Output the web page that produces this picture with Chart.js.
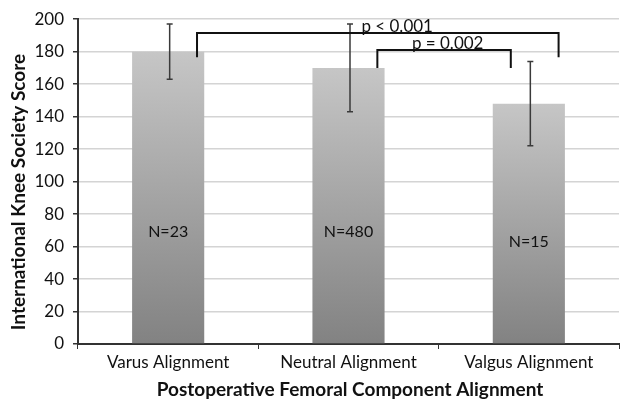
<!DOCTYPE html>
<html>
<head>
<meta charset="utf-8">
<script src="https://cdn.jsdelivr.net/npm/chart.js@4.4.1/dist/chart.umd.min.js"></script>
<style>
  html, body { margin: 0; padding: 0; background: #ffffff; }
  #wrap { width: 633px; height: 400px; }
</style>
</head>
<body>
<div id="wrap"><canvas id="c" width="633" height="400"></canvas></div>
<script>
// Knee Society scores by femoral component alignment group
const categories = ['Varus Alignment', 'Neutral Alignment', 'Valgus Alignment'];
const meanScores = [180, 170, 148];
const sdScores = [17, 27, 26];
const groupSizes = ['N=23', 'N=480', 'N=15'];
const yTicks = [0, 20, 40, 60, 80, 100, 120, 140, 160, 180, 200];

// Significance brackets: from/to in category units, bar height and leg foot in score units
const bracketLabels = ['p < 0.001', 'p = 0.002'];
const bracketFrom = [0.16, 1.16];
const bracketTo = [2.165, 1.90];
const bracketTop = [191.5, 181];
const bracketFoot = [176.5, 170];

const FONT = 'Lato, "Open Sans", sans-serif';

function barGradient(ctx) {
  const chart = ctx.chart;
  const area = chart.chartArea;
  if (!area || ctx.type !== 'data') return '#a0a0a0';
  const y = chart.scales.y;
  const top = y.getPixelForValue(ctx.raw);
  const bottom = y.getPixelForValue(0);
  const g = chart.ctx.createLinearGradient(0, top, 0, bottom);
  g.addColorStop(0, '#c6c6c6');
  g.addColorStop(1, '#828282');
  return g;
}

// Error bars, N labels, significance brackets and axis titles
const overlay = {
  id: 'overlay',
  afterDatasetsDraw(chart, args, opts) {
    const ctx = chart.ctx;
    const x = chart.scales.x, y = chart.scales.y;
    ctx.save();

    // error bars
    ctx.strokeStyle = '#3a3a3a';
    ctx.lineWidth = 1.5;
    meanScores.forEach((m, i) => {
      const cx = x.getPixelForValue(i) + 1.5;
      const hi = y.getPixelForValue(m + sdScores[i]);
      const lo = y.getPixelForValue(m - sdScores[i]);
      ctx.beginPath();
      ctx.moveTo(cx, hi); ctx.lineTo(cx, lo);
      ctx.moveTo(cx - 3, hi); ctx.lineTo(cx + 3, hi);
      ctx.moveTo(cx - 3, lo); ctx.lineTo(cx + 3, lo);
      ctx.stroke();
    });

    // group size labels
    ctx.fillStyle = '#111111';
    ctx.font = '16px ' + FONT;
    ctx.textAlign = 'center';
    ctx.textBaseline = 'middle';
    groupSizes.forEach((t, i) => {
      ctx.fillText(t, x.getPixelForValue(i), y.getPixelForValue(opts.labelAt[i]));
    });

    // significance brackets
    ctx.strokeStyle = '#111111';
    ctx.lineWidth = 2;
    ctx.font = '17px ' + FONT;
    bracketLabels.forEach((t, i) => {
      const x1 = x.getPixelForValue(bracketFrom[i]);
      const x2 = x.getPixelForValue(bracketTo[i]);
      const yt = y.getPixelForValue(bracketTop[i]);
      const yf = y.getPixelForValue(bracketFoot[i]);
      ctx.beginPath();
      ctx.moveTo(x1, yf); ctx.lineTo(x1, yt); ctx.lineTo(x2, yt); ctx.lineTo(x2, yf);
      ctx.stroke();
      ctx.fillStyle = '#111111';
      ctx.textBaseline = 'alphabetic';
      ctx.fillText(t, x.getPixelForValue(opts.textAt[i]), yt - 1);
    });

    // axis titles
    ctx.fillStyle = '#111111';
    ctx.font = 'bold 19px ' + FONT;
    ctx.textBaseline = 'middle';
    ctx.fillText('Postoperative Femoral Component Alignment', 350, 390);
    ctx.translate(19, 192);
    ctx.rotate(-Math.PI / 2);
    ctx.fillText('International Knee Society Score', 0, 0);
    ctx.restore();
  }
};

new Chart(document.getElementById('c'), {
  type: 'bar',
  data: {
    labels: categories,
    datasets: [{
      data: meanScores,
      backgroundColor: barGradient,
      borderWidth: 0,
      categoryPercentage: 1,
      barPercentage: 0.4
    }]
  },
  options: {
    responsive: false,
    animation: false,
    layout: { padding: { top: 18, right: 14, left: 0, bottom: 0 } },
    plugins: {
      legend: { display: false },
      tooltip: { enabled: false },
      overlay: { labelAt: [69, 69, 63], textAt: [1.27, 1.55] }
    },
    scales: {
      x: {
        grid: { drawOnChartArea: false, drawTicks: true, tickLength: 5, tickColor: '#333333', offset: true },
        border: { color: '#333333', width: 2 },
        ticks: { color: '#111111', font: { family: FONT, size: 17 }, padding: 3, maxRotation: 0 },
        afterFit(s) { s.height = 56; }
      },
      y: {
        min: 0, max: 200,
        afterBuildTicks(s) { s.ticks = yTicks.map(v => ({ value: v })); },
        grid: { color: '#d4d4d4', lineWidth: 1.5, tickLength: 5, tickColor: '#333333' },
        border: { color: '#333333', width: 2 },
        ticks: { color: '#111111', font: { family: FONT, size: 17 }, padding: 9 },
        afterFit(s) { s.width = 78; }
      }
    }
  },
  plugins: [overlay]
});
</script>
</body>
</html>
